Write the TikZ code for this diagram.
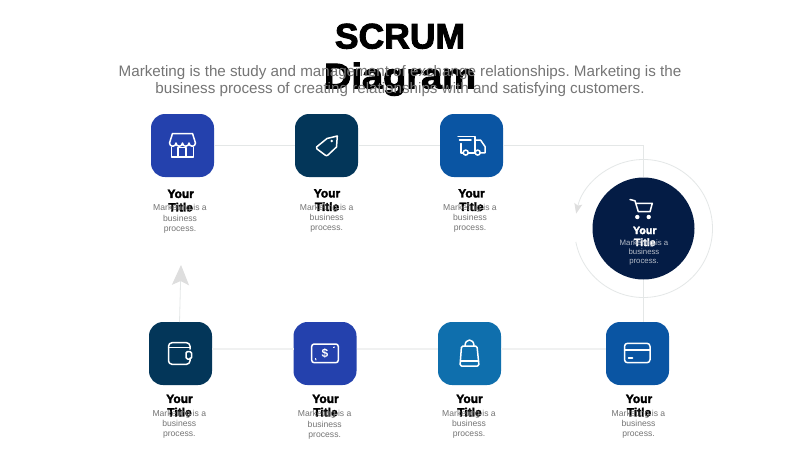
\documentclass[tikz,border=0pt]{standalone}
\usepackage{fontspec}
\setmainfont{Liberation Sans}
\newfontfamily\heavyfont[FakeBold=2.6]{Liberation Sans Bold}
\newfontfamily\heavywide[FakeBold=2.6,FakeStretch=1.07]{Liberation Sans Bold}
\usetikzlibrary{arrows.meta,calc}
\definecolor{royal}{HTML}{2441AD}
\definecolor{deepteal}{HTML}{033659}
\definecolor{midblue}{HTML}{0A55A3}
\definecolor{seablue}{HTML}{0F6FAD}
\definecolor{navy}{HTML}{041C45}
\definecolor{linegray}{HTML}{E4E7E7}
\definecolor{linepale}{HTML}{F0F1F1}
\definecolor{headgray}{HTML}{DEDEDE}
\definecolor{bodygray}{HTML}{757575}
\tikzset{
  x=1pt,y=-1pt,
  iconbox/.style={rectangle,rounded corners=14pt,minimum width=63pt,minimum height=63pt,inner sep=0pt,draw=none},
  flow/.style={draw=linegray,line width=0.8pt},
  flowpale/.style={draw=linepale,line width=1.3pt},
  icon/.style={draw=white,line width=1.5pt,line join=round,line cap=round,fill=none},
  titletext/.style={font=\heavyfont\fontsize{12}{13.5}\selectfont,align=center,inner sep=0pt,anchor=north,text=black},
  bodytext/.style={font=\fontsize{8.6}{10.2}\selectfont,align=center,inner sep=0pt,anchor=north,text=bodygray},
}
\frenchspacing
\begin{document}
\begin{tikzpicture}
\useasboundingbox (0,0) rectangle (800,450);
\fill[white] (0,0) rectangle (800,450);
% boxes
\node[iconbox,fill=royal] (store) at (182.5,145.5) {};
\node[iconbox,fill=deepteal] (tag) at (326.5,145.5) {};
\node[iconbox,fill=midblue] (truck) at (471.5,145.5) {};
\node[circle,fill=navy,minimum size=102pt,inner sep=0pt] (cart) at (643.5,228.5) {};
\node[iconbox,fill=deepteal] (wallet) at (180.5,353.5) {};
\node[iconbox,fill=royal] (money) at (325,353.5) {};
\node[iconbox,fill=seablue] (bag) at (469.5,353.5) {};
\node[iconbox,fill=midblue] (card) at (637.5,353.5) {};
% connectors
\coordinate (corner) at (643.5,145.5);
\coordinate (upend) at (181,265);
\coordinate (wallettop) at (179.5,322);
\coordinate (wr) at (212,349);
\coordinate (ml) at (293.5,349);
\coordinate (mr) at (356.5,349);
\coordinate (bl) at (438,349);
\coordinate (br) at (501,349);
\coordinate (cl) at (606,349);
\draw[flow] (store.east) -- (tag.west);
\draw[flow] (tag.east) -- (truck.west);
\draw[flow] (truck.east) -- (corner) -- (cart.north);
\draw[flow] (cart.south) -- (cart.south |- card.north);
\draw[flowpale] (wr) -- (ml);
\draw[flowpale] (mr) -- (bl);
\draw[flowpale] (br) -- (cl);
\draw[flow,-{Stealth[length=20pt,width=17pt,inset=4pt,color=headgray]}] (wallettop) -- (upend);
% ring
\draw[flow,-{Stealth[length=10pt,width=8pt,inset=2pt,color=headgray]}]
  ($(cart)+(168.7:69)$) arc[start angle=168.7,end angle=-167.5,radius=69];
% store icon
\draw[icon] (169.5,143) -- (172.5,133.5) -- (192.5,133.5) -- (195.5,143);
\draw[icon] (169.5,143) arc[start angle=180,end angle=0,radius=3.25] arc[start angle=180,end angle=0,radius=3.25] arc[start angle=180,end angle=0,radius=3.25] arc[start angle=180,end angle=0,radius=3.25];
\draw[icon] (171.5,147) -- (171.5,157) -- (193.5,157) -- (193.5,147);
\draw[icon] (178,157) -- (178,147.5) -- (186,147.5) -- (186,157);
% tag icon
\draw[icon] (337.3,136) -- (327,138.5) -- (316.5,147) .. controls (316,148) .. (317,149) -- (325,155) .. controls (326.5,156) .. (328,155) -- (336.5,147) -- cycle;
\fill[white] (331.7,141) circle[radius=1.3];
% truck icon
\draw[icon] (458,136.7) -- (475,136.7) -- (475,152.8);
\draw[icon] (459.5,140) -- (471,140);
\draw[icon] (461,143.5) -- (461,152.8) -- (463,152.8);
\draw[icon] (468.3,152.8) -- (475,152.8);
\draw[icon] (475,140) -- (480.5,140) -- (485,146.5) -- (485,152.8) -- (480.3,152.8);
\draw[icon] (465.7,152.6) circle[radius=2.5];
\draw[icon] (477.7,152.6) circle[radius=2.5];
% cart icon
\draw[icon] (630,199.5) -- (635,200.8) -- (638.3,211.7) -- (650,211.7) -- (652.3,203.3) -- (636.3,203.3);
\fill[white] (637.3,217) circle[radius=2.2];
\fill[white] (648.7,217) circle[radius=2.2];
% wallet icon
\draw[icon,rounded corners=3.5pt] (190,349) -- (190,342.7) -- (168.5,342.7) -- (168.5,364.3) -- (190,364.3) -- (190,358);
\draw[icon] (168.5,347.5) -- (189.5,347.5);
\draw[icon,rounded corners=1.5pt] (191.5,351.5) -- (186,351.5) -- (186,359) -- (191.5,359) -- cycle;
% money icon
\draw[icon,rounded corners=2.5pt] (311.7,344) rectangle (338.3,362.7);
\node[inner sep=0pt,text=white,font=\bfseries\fontsize{12}{12}\selectfont] (dollar) at (325,353.3) {\$};
\draw[icon,line width=1pt] (316,360) -- (315.5,358.5);
\draw[icon,line width=1pt] (333.5,347.5) -- (334.5,347);
% bag icon
\draw[icon,rounded corners=1.5pt] (461.5,346) -- (477,346) -- (479,366) -- (460,366) -- cycle;
\draw[icon] (465,346) .. controls (465,338) and (474,338) .. (474,346);
\draw[icon] (460.5,361) -- (478.5,361);
% card icon
\draw[icon,rounded corners=3pt] (624.5,343.3) rectangle (650,362.7);
\draw[icon] (624.5,349.8) -- (650,349.8);
\draw[icon] (628.5,358) -- (632.5,358);
% heading
\node[inner sep=0pt,anchor=north,align=center,text=black,font=\heavyfont\fontsize{35.5}{39.8}\selectfont] (heading) at (400,23.5) {SCRUM\\{\heavywide Diagram}};
\node[inner sep=0pt,anchor=north,align=center,text=bodygray,font=\fontsize{15.2}{17.2}\selectfont] (sub) at (400,65) {Marketing is the study and management of exchange relationships. Marketing is the\\business process of creating relationships with and satisfying customers.};
% texts
\node[titletext] (t1) at (180.7,189.5) {Your\\Title};
\node[bodytext] (b1) at (180,204.5) {Marketing is a\\business\\process.};
\node[titletext] (t2) at (327,189) {Your\\Title};
\node[bodytext] (b2) at (326.7,204) {Marketing is a\\business\\process.};
\node[titletext] (t3) at (471.5,189) {Your\\Title};
\node[bodytext] (b3) at (470,204) {Marketing is a\\business\\process.};
\node[titletext] (t5) at (179.5,394.5) {Your\\Title};
\node[bodytext] (b5) at (179.3,410) {Marketing is a\\business\\process.};
\node[titletext] (t6) at (325.5,394.5) {Your\\Title};
\node[bodytext] (b6) at (324.7,410.5) {Marketing is a\\business\\process.};
\node[titletext] (t7) at (469.5,394.5) {Your\\Title};
\node[bodytext] (b7) at (469,410) {Marketing is a\\business\\process.};
\node[titletext] (t8) at (639,394.5) {Your\\Title};
\node[bodytext] (b8) at (638.5,410) {Marketing is a\\business\\process.};
\node[titletext,text=white,font=\heavyfont\fontsize{10.7}{12}\selectfont] (t4) at (644.8,226.5) {Your\\Title};
\node[bodytext,text=white!70!navy,font=\fontsize{7.8}{9.3}\selectfont] (b4) at (644,239.5) {Marketing is a\\business\\process.};
\end{tikzpicture}
\end{document}
